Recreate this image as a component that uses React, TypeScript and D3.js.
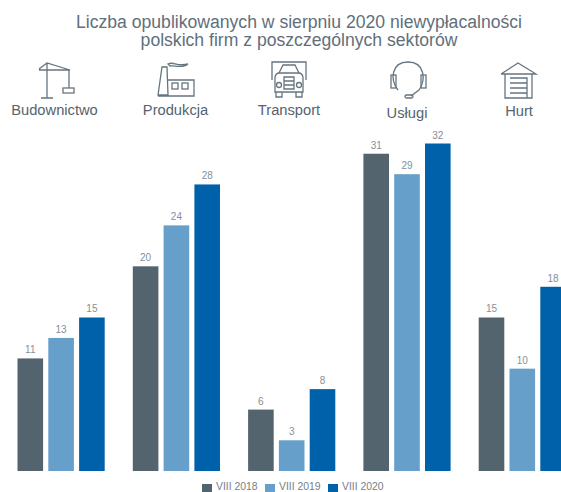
import React from "react";
import * as d3 from "d3";

const categories = ["Budownictwo", "Produkcja", "Transport", "Usługi", "Hurt"];
const seriesNames = ["VIII 2018", "VIII 2019", "VIII 2020"];
const v2018 = [11, 20, 6, 31, 15];
const v2019 = [13, 24, 3, 29, 10];
const v2020 = [15, 28, 8, 32, 18];
const colors = ["#54646f", "#669fc9", "#0061ab"];
const titleLines = [
  "Liczba opublikowanych w sierpniu 2020 niewypłacalności",
  "polskich firm z poszczególnych sektorów",
];
const labelY = [115, 115, 115, 118, 116];
const labelX = [54.5, 175.5, 289, 407, 519];

const FONT = "'Liberation Sans', Arial, sans-serif";
const IC = "#66757f";

const icons = [
  <g key="crane">
    <path d="M47 63V98M41 98H53M39 69L47 63L70 70H39M47 63L47 70M69 70V88" />
    <rect x="63" y="88" width="11" height="5" />
  </g>,
  <g key="factory">
    <path d="M158 95L162 67H167L168 95ZM168 80H194V96H158" />
    <rect x="172" y="83" width="6" height="6" />
    <rect x="182" y="83" width="6" height="6" />
    <path d="M168 64C174 61 176 67 188 64C182 69 174 65 170 66Z" />
  </g>,
  <g key="truck">
    <path d="M272 80V62H306V80M272 62H306M279 73L283 65H295L299 73" />
    <path d="M275 92V78Q275 73 280 73H298Q303 73 303 78V92Z" />
    <path d="M284 77H294V89H284ZM284 81H294M284 85H294M276 92V97H282V92M296 92V97H302V92" />
    <circle cx="279" cy="85" r="2.5" />
    <circle cx="299" cy="85" r="2.5" />
  </g>,
  <g key="headset">
    <path d="M398 90C390 80 391 62 408 62C425 62 426 80 419 90L411 96" />
    <rect x="391" y="75" width="5" height="13" />
    <rect x="421" y="75" width="5" height="13" />
    <rect x="405" y="95" width="8" height="3" rx="1.5" />
  </g>,
  <g key="garage">
    <path d="M501 74L518 63L536 74H501M505 74V98H532V74M510 78H527V98H510M510 83H527M510 88H527M510 93H527" />
  </g>,
];

export default function App() {
  const series = [v2018, v2019, v2020];
  const y = d3.scaleLinear().domain([0, 32]).range([471, 143.5]);
  const x0 = d3.scaleLinear().domain([0, 1]).range([17.5, 132.8]);
  const x1 = d3.scaleLinear().domain([0, 1]).range([0, 30.8]);
  const bw = 25.6;
  return (
    <svg
      width={561}
      height={492}
      style={{ position: "fixed", left: 0, top: 0, background: "#fff", overflow: "hidden" }}
      fontFamily={FONT}
    >
      {titleLines.map((t, i) => (
        <text key={t} x={299} y={27.5 + i * 18.5} textAnchor="middle" fontSize={17.6} fill="#5f6f7b">
          {t}
        </text>
      ))}
      <g fill="none" stroke={IC} strokeWidth={1.3}>
        {icons}
      </g>
      {categories.map((c, i) => (
        <text key={c} x={labelX[i]} y={labelY[i]} textAnchor="middle" fontSize={14.7} fill="#55636e">
          {c}
        </text>
      ))}
      {series.map((vals, s) =>
        vals.map((v, i) => {
          const x = x0(i) + x1(s);
          return (
            <g key={`${s}-${i}`}>
              <rect x={x} y={y(v)} width={bw} height={471 - y(v)} fill={colors[s]} />
              <text x={x + bw / 2} y={y(v) - 5} textAnchor="middle" fontSize={10} fill="#858f98">
                {v}
              </text>
            </g>
          );
        })
      )}
      {seriesNames.map((n, i) => {
        const lx = 202 + i * 63;
        return (
          <g key={n}>
            <rect x={lx} y={484} width={10} height={8} fill={colors[i]} />
            <text x={lx + 14} y={489.5} fontSize={10.4} fill="#75808a">
              {n}
            </text>
          </g>
        );
      })}
    </svg>
  );
}
